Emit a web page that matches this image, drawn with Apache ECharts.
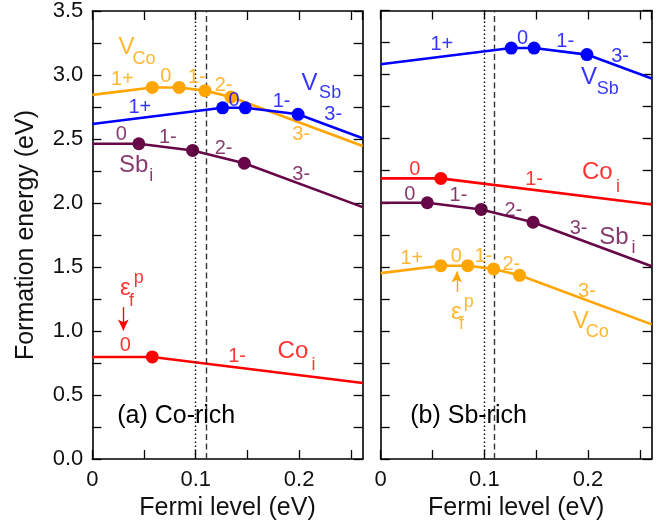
<!DOCTYPE html>
<html>
<head>
<meta charset="utf-8">
<script src="https://cdn.jsdelivr.net/npm/echarts@6/dist/echarts.min.js"></script>
<style>
  html, body { margin: 0; padding: 0; background: #fff; }
  #chart { width: 668px; height: 526px; }
</style>
</head>
<body>
<div id="chart"></div>
<script>
// tick labels
const xTickLabels = ["0", "0.1", "0.2"];
const yTickLabels = ["0.0", "0.5", "1.0", "1.5", "2.0", "2.5", "3.0", "3.5"];
const defects = ["Co_i", "Sb_i", "V_Co", "V_Sb"];
const panelTitles = ["(a) Co-rich", "(b) Sb-rich"];

// Fermi level markers (dotted, dashed)
const refLevels = [0.1, 0.11];

// formation energy lines, Co-rich: [Fermi level, energy], ends + transition points
const coRichCoI = [[0, 0.798], [0.058, 0.798], [0.2615, 0.594]];
const coRichSbI = [[0, 2.463], [0.045, 2.463], [0.097, 2.411], [0.147, 2.311], [0.2615, 1.968]];
const coRichVCo = [[0, 2.845], [0.058, 2.903], [0.084, 2.903], [0.109, 2.878], [0.134, 2.828], [0.2615, 2.445]];
const coRichVSb = [[0, 2.618], [0.126, 2.744], [0.148, 2.744], [0.199, 2.693], [0.2615, 2.506]];

// Sb-rich
const sbRichCoI = [[0, 2.19], [0.058, 2.19], [0.2615, 1.987]];
const sbRichSbI = [[0, 2.0], [0.045, 2.0], [0.097, 1.948], [0.147, 1.848], [0.2615, 1.505]];
const sbRichVCo = [[0, 1.451], [0.058, 1.509], [0.084, 1.509], [0.109, 1.484], [0.134, 1.434], [0.2615, 1.051]];
const sbRichVSb = [[0, 3.081], [0.126, 3.207], [0.148, 3.207], [0.199, 3.156], [0.2615, 2.969]];

// pinning level arrows
const coRichArrow = [[0.030, 1.187], [0.030, 1.005]];
const sbRichArrow = [[0.0735, 1.304], [0.0735, 1.464]];

// text labels: [x, y, text, role, defect]
const coRichLabels = [
  [0.033, 3.213, "V", "name", "V_Co"],
  [0.050, 3.128, "Co", "sub", "V_Co"],
  [0.029, 2.965, "1+", "q", "V_Co"],
  [0.071, 2.985, "0", "q", "V_Co"],
  [0.101, 2.978, "1-", "q", "V_Co"],
  [0.127, 2.921, "2-", "q", "V_Co"],
  [0.202, 2.533, "3-", "q", "V_Co"],
  [0.046, 2.748, "1+", "q", "V_Sb"],
  [0.137, 2.799, "0", "q", "V_Sb"],
  [0.183, 2.797, "1-", "q", "V_Sb"],
  [0.233, 2.688, "3-", "q", "V_Sb"],
  [0.210, 2.934, "V", "name", "V_Sb"],
  [0.230, 2.861, "Sb", "sub", "V_Sb"],
  [0.028, 2.533, "0", "q", "Sb_i"],
  [0.073, 2.515, "1-", "q", "Sb_i"],
  [0.127, 2.429, "2-", "q", "Sb_i"],
  [0.202, 2.222, "3-", "q", "Sb_i"],
  [0.040, 2.294, "Sb", "name", "Sb_i"],
  [0.057, 2.209, "i", "sub", "Sb_i"],
  [0.032, 1.335, "ε", "name", "Co_i"],
  [0.038, 1.238, "f", "sub", "Co_i"],
  [0.045, 1.412, "p", "sub", "Co_i"],
  [0.032, 0.889, "0", "q", "Co_i"],
  [0.140, 0.799, "1-", "q", "Co_i"],
  [0.194, 0.838, "Co", "name", "Co_i"],
  [0.214, 0.734, "i", "sub", "Co_i"],
];
const sbRichLabels = [
  [0.059, 3.231, "1+", "q", "V_Sb"],
  [0.137, 3.283, "0", "q", "V_Sb"],
  [0.178, 3.257, "1-", "q", "V_Sb"],
  [0.231, 3.141, "3-", "q", "V_Sb"],
  [0.201, 2.981, "V", "name", "V_Sb"],
  [0.219, 2.887, "Sb", "sub", "V_Sb"],
  [0.033, 2.261, "0", "q", "Co_i"],
  [0.148, 2.183, "1-", "q", "Co_i"],
  [0.209, 2.235, "Co", "name", "Co_i"],
  [0.229, 2.119, "i", "sub", "Co_i"],
  [0.028, 2.067, "0", "q", "Sb_i"],
  [0.075, 2.054, "1-", "q", "Sb_i"],
  [0.128, 1.943, "2-", "q", "Sb_i"],
  [0.191, 1.800, "3-", "q", "Sb_i"],
  [0.225, 1.731, "Sb", "name", "Sb_i"],
  [0.244, 1.645, "i", "sub", "Sb_i"],
  [0.030, 1.562, "1+", "q", "V_Co"],
  [0.073, 1.580, "0", "q", "V_Co"],
  [0.099, 1.580, "1-", "q", "V_Co"],
  [0.126, 1.516, "2-", "q", "V_Co"],
  [0.199, 1.311, "3-", "q", "V_Co"],
  [0.193, 1.071, "V", "name", "V_Co"],
  [0.209, 0.988, "Co", "sub", "V_Co"],
  [0.073, 1.148, "ε", "name", "V_Co"],
  [0.078, 1.057, "f", "sub", "V_Co"],
  [0.085, 1.226, "p", "sub", "V_Co"],
];
const titlePos = [[0.0236, 0.333], [0.028, 0.333]];

const panels = [
  { lines: [coRichCoI, coRichSbI, coRichVCo, coRichVSb], labels: coRichLabels, arrow: coRichArrow, arrowDefect: "Co_i" },
  { lines: [sbRichCoI, sbRichSbI, sbRichVCo, sbRichVSb], labels: sbRichLabels, arrow: sbRichArrow, arrowDefect: "V_Co" },
];

const colors = { V_Co: "#ffa500", V_Sb: "#0000ff", Sb_i: "#670748", Co_i: "#ff0000" };
const fontSizes = { name: 24, sub: 18, q: 20 };
const font = '"Liberation Sans", Arial, Helvetica, sans-serif';
const ink = "#111";

const chart = echarts.init(document.getElementById("chart"));

const grids = [
  { left: 92.3, top: 10.5, width: 270.4, height: 451 },
  { left: 380.7, top: 10.5, width: 271, height: 451 },
];

function xLabel(v) {
  const k = Math.round(v * 10);
  return Math.abs(v * 10 - k) < 1e-6 ? xTickLabels[k] ?? "" : "";
}
function yLabel(v) {
  const k = Math.round(v * 2);
  return Math.abs(v * 2 - k) < 1e-6 ? yTickLabels[k] ?? "" : "";
}

const axisLine = { show: true, onZero: false, lineStyle: { color: "#000", width: 1.6 } };
const axisTick = { show: true, inside: true, length: 9, lineStyle: { color: "#000", width: 1.3 } };

const xAxis = [];
const yAxis = [];
[0, 1].forEach((g) => {
  xAxis.push({
    type: "value", gridIndex: g, min: 0, max: 0.2615, interval: 0.05,
    axisLine, axisTick, splitLine: { show: false },
    axisLabel: { formatter: xLabel, fontSize: 22, fontFamily: font, color: ink, margin: 10, showMaxLabel: false },
    name: "Fermi level (eV)", nameLocation: "middle", nameGap: 30,
    nameTextStyle: { fontSize: 25, fontFamily: font, color: ink },
  });
  yAxis.push({
    type: "value", gridIndex: g, min: 0, max: 3.5, interval: 0.25,
    axisLine, axisTick, splitLine: { show: false },
    axisLabel: { show: g === 0, formatter: yLabel, fontSize: 22, fontFamily: font, color: ink, margin: 9 },
    name: g === 0 ? "Formation energy (eV)" : "", nameLocation: "middle", nameGap: 54,
    nameTextStyle: { fontSize: 25, fontFamily: font, color: ink },
  });
});
[0, 1].forEach((g) => {
  xAxis.push({
    type: "value", gridIndex: g, position: "top", min: 0, max: 0.2615, interval: 0.05,
    axisLine, axisTick, splitLine: { show: false }, axisLabel: { show: false },
  });
  yAxis.push({
    type: "value", gridIndex: g, position: "right", min: 0, max: 3.5, interval: 0.25,
    axisLine, axisTick, splitLine: { show: false }, axisLabel: { show: false },
  });
});

const series = [];
panels.forEach((p, g) => {
  p.lines.forEach((pts, i) => {
    const c = colors[defects[i]];
    series.push({
      type: "line", xAxisIndex: g, yAxisIndex: g, data: pts,
      showSymbol: false, silent: true, z: 3 + i,
      lineStyle: { color: c, width: 2.6 },
      markLine: i === 0 ? {
        silent: true, symbol: "none", label: { show: false },
        data: refLevels.map((x, k) => ({
          xAxis: x,
          lineStyle: { color: k === 0 ? "#000" : "#333", width: 1.4, type: k === 0 ? [1.5, 2.5] : [6, 3.5] },
        })),
      } : undefined,
    });
    series.push({
      type: "scatter", xAxisIndex: g, yAxisIndex: g, data: pts.slice(1, -1),
      symbolSize: 13, silent: true, z: 3 + i,
      itemStyle: { color: c, opacity: 1 },
    });
  });

  series.push({
    type: "scatter", xAxisIndex: g, yAxisIndex: g, silent: true, z: 10,
    symbolSize: 1, itemStyle: { color: "transparent" },
    data: p.labels.map((l) => ({
      value: [l[0], l[1]],
      label: {
        show: true, position: "inside", formatter: l[2],
        fontSize: fontSizes[l[3]], fontFamily: font, color: colors[l[4]],
      },
    })),
    markLine: {
      silent: true, symbol: ["none", "arrow"], symbolSize: [8, 11], label: { show: false },
      lineStyle: { color: colors[p.arrowDefect], width: 1.4, type: "solid" },
      data: [[{ coord: p.arrow[0] }, { coord: p.arrow[1] }]],
    },
  });

  // panel title
  series.push({
    type: "scatter", xAxisIndex: g, yAxisIndex: g, silent: true, z: 10,
    symbolSize: 1, itemStyle: { color: "#fff", opacity: 0 },
    data: [{
      value: titlePos[g],
      label: {
        show: true, position: "right", distance: 0, formatter: panelTitles[g],
        fontSize: 25, fontFamily: font, color: "#000", opacity: 1,
      },
    }],
  });
});

chart.setOption({
  animation: false,
  backgroundColor: "#fff",
  grid: grids,
  xAxis,
  yAxis,
  series,
});
</script>
</body>
</html>
